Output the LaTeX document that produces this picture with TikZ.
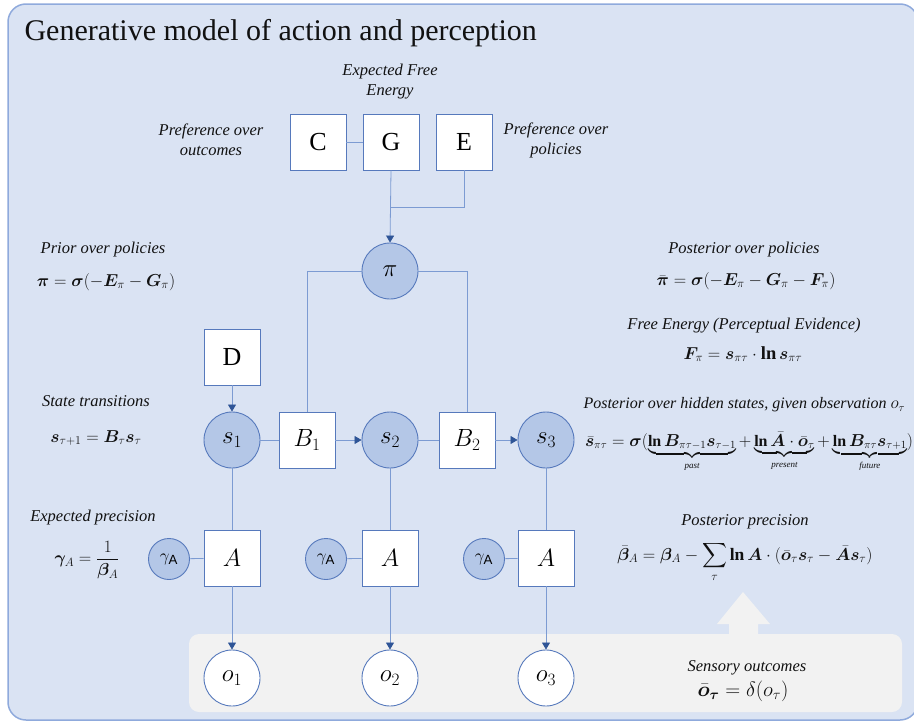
\documentclass[tikz,border=0pt]{standalone}
\usepackage{amsmath,bm}
\usepackage{fontspec}
\setmainfont{Liberation Serif}
\setsansfont{Liberation Sans}
\usepackage{tikz}
\usetikzlibrary{arrows.meta,positioning,calc}
\definecolor{panel}{HTML}{DAE3F3}
\definecolor{frame}{HTML}{8FAADC}
\definecolor{nodefill}{HTML}{B4C7E7}
\definecolor{nodeline}{HTML}{5679BC}
\definecolor{wire}{HTML}{7C9BD2}
\definecolor{tip}{HTML}{2F5597}
\definecolor{band}{HTML}{F2F2F2}
\definecolor{ink}{HTML}{111111}
\tikzset{
  var/.style={circle, draw=nodeline, fill=nodefill, line width=0.9pt, minimum size=56pt, inner sep=0pt, font=\fontsize{26}{28}\selectfont},
  obs/.style={var, fill=white},
  prec/.style={var, minimum size=41pt, font=\fontsize{19}{20}\selectfont},
  fac/.style={draw=nodeline, fill=white, line width=0.9pt, minimum size=56pt, inner sep=0pt, font=\fontsize{26}{28}\selectfont},
  link/.style={draw=wire, line width=0.8pt},
  flow/.style={link, -{Triangle[length=7pt,width=8pt,color=tip]}},
  note/.style={font=\fontsize{16.5}{20}\selectfont\itshape, align=center, text=ink},
  eqn/.style={font=\fontsize{18.5}{22}\selectfont, text=ink}
}
\newcommand{\brlab}[1]{\mbox{\fontsize{9}{10}\selectfont\itshape #1}}
\newcommand{\bln}{\mathop{\mathbf{ln}}\nolimits}

\begin{document}
\begin{tikzpicture}[x=1pt,y=-1pt]
  \useasboundingbox (0,0) rectangle (914,723);
  \fill[white] (0,0) rectangle (914,723);
  \draw[frame, fill=panel, line width=1.5pt, rounded corners=18pt] (8,4) rectangle (918,720);
  \fill[band, rounded corners=10pt] (189,634) rectangle (902,712);
  \fill[band] (729,634) -- (729,624) -- (717,624) -- (743,592) -- (770,624) -- (758,624) -- (758,634) -- cycle;

  \node[anchor=base west, font=\fontsize{30}{34}\selectfont, text=ink] (title) at (21,40) {Generative model of action and perception};

  % top row
  \node[fac] (C) at (318,142) {C};
  \node[fac] (G) at (391,142) {G};
  \node[fac] (E) at (464,142) {E};
  \node[note] (efe) at (390,82) {Expected Free\\Energy};
  \node[note] (prefo) at (211,140) {Preference over\\outcomes};
  \node[note] (prefp) at (556,140) {Preference over\\policies};

  \node[var] (pi) at (390,271) {$\pi$};
  \node[fac] (D) at (232,357) {D};

  % hidden states
  \node[var] (s1) at (232,440) {$s_1$};
  \node[fac] (B1) at (307,440) {$B_1$};
  \node[var] (s2) at (390,440) {$s_2$};
  \node[fac] (B2) at (467,440) {$B_2$};
  \node[var] (s3) at (546,440) {$s_3$};

  % likelihood
  \node[fac] (A1) at (232,558) {$A$};
  \node[fac] (A2) at (390,558) {$A$};
  \node[fac] (A3) at (546,558) {$A$};
  \node[prec] (g1) at (169,559) {$\gamma_{\textsf{A}}$};
  \node[prec] (g2) at (326,559) {$\gamma_{\textsf{A}}$};
  \node[prec] (g3) at (484,559) {$\gamma_{\textsf{A}}$};

  % outcomes
  \node[obs] (o1) at (232,678) {$o_1$};
  \node[obs] (o2) at (390,678) {$o_2$};
  \node[obs] (o3) at (546,678) {$o_3$};

  \coordinate (join) at (391,207);
  \draw[link] (C) -- (G);
  \draw[link] (E.south) |- (join);
  \draw[flow] (G.south) -- (pi.north);
  \draw[link] (pi.west) -| (B1.north);
  \draw[link] (pi.east) -| (B2.north);
  \draw[flow] (D) -- (s1);
  \draw[link] (s1) -- (B1);
  \draw[flow] (B1) -- (s2);
  \draw[link] (s2) -- (B2);
  \draw[flow] (B2) -- (s3);
  \draw[link] (s1) -- (A1);
  \draw[link] (s2) -- (A2);
  \draw[link] (s3) -- (A3);
  \draw[link] (g1) -- (A1);
  \draw[link] (g2) -- (A2);
  \draw[link] (g3) -- (A3);
  \draw[flow] (A1) -- (o1);
  \draw[flow] (A2) -- (o2);
  \draw[flow] (A3) -- (o3);

  % left equations
  \node[note] (priorlab) at (103,250) {Prior over policies};
  \node[eqn] (prioreq) at (106,282) {$\bm{\pi}=\bm{\sigma}(-\bm{E}_\pi-\bm{G}_\pi)$};
  \node[note] (translab) at (96,401) {State transitions};
  \node[eqn] (transeq) at (96,438) {$\bm{s}_{\tau+1}=\bm{B}_\tau\bm{s}_\tau$};
  \node[note] (preclab) at (93,518) {Expected precision};
  \node[eqn] (preceq) at (87,560) {$\bm{\gamma}_A=\dfrac{1}{\bm{\beta}_A}$};

  % right equations
  \node[note] (postlab) at (744,250) {Posterior over policies};
  \node[eqn] (posteq) at (746,281) {$\bar{\bm{\pi}}=\bm{\sigma}(-\bm{E}_\pi-\bm{G}_\pi-\bm{F}_\pi)$};
  \node[note] (felab) at (744,326) {Free Energy (Perceptual Evidence)};
  \node[eqn] (feeq) at (743,354) {$\bm{F}_\pi=\bm{s}_{\pi\tau}\cdot\bln\bm{s}_{\pi\tau}$};
  \node[note, font=\fontsize{16}{20}\selectfont\itshape, anchor=west] (statelab) at (580,405) {Posterior over hidden states, given observation $o_\tau$};
  \node[eqn, font=\fontsize{16}{20}\selectfont] (stateeq) at (749,452) {$\bar{\bm{s}}_{\pi\tau}=\bm{\sigma}(\underbrace{\bln\bm{B}_{\pi\tau-1}\bm{s}_{\tau-1}}_{\brlab{past}}+\underbrace{\bln\bar{\bm{A}}\cdot\bar{\bm{o}}_\tau}_{\brlab{present}}+\underbrace{\bln\bm{B}_{\pi\tau}\bm{s}_{\tau+1}}_{\brlab{future}})$};
  \node[note] (bplab) at (745,522) {Posterior precision};
  \node[eqn, font=\fontsize{17.5}{20}\selectfont] (bpeq) at (745,562) {$\bar{\bm{\beta}}_A=\bm{\beta}_A-\displaystyle\sum_\tau\bln\bm{A}\cdot(\bar{\bm{o}}_\tau\bm{s}_\tau-\bar{\bm{A}}\bm{s}_\tau)$};
  \node[note] (senslab) at (747,668) {Sensory outcomes};
  \node[eqn, font=\fontsize{20}{22}\selectfont] (senseq) at (743,691) {$\bar{\bm{o}}_{\bm{\tau}}=\delta(o_\tau)$};
\end{tikzpicture}
\end{document}
